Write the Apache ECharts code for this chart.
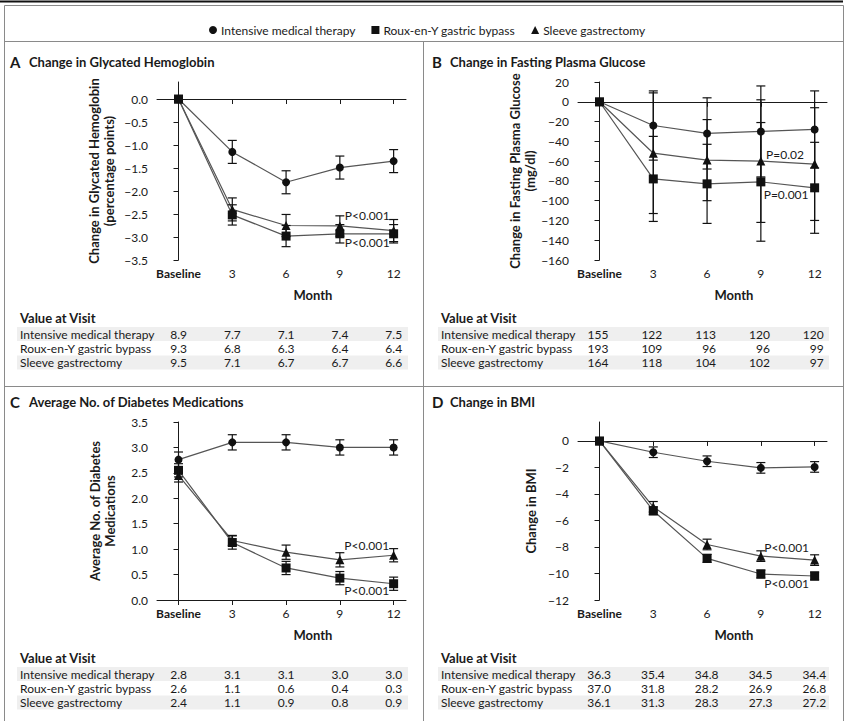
<!DOCTYPE html>
<html><head><meta charset="utf-8">
<script src="https://cdn.jsdelivr.net/npm/echarts@6/dist/echarts.min.js"></script>
<style>html,body{margin:0;padding:0;background:#fff}#c{width:850px;height:721px}</style>
</head><body><div id="c"></div>
<script>
// ---------- DATA ----------
const months = ['Baseline', '3', '6', '9', '12'];
const groups = ['Intensive medical therapy', 'Roux-en-Y gastric bypass', 'Sleeve gastrectomy'];

// Panel A: change in glycated hemoglobin (percentage points)
const hbaIntensive = [0, -1.15, -1.81, -1.49, -1.35];
const hbaIntensiveErr = [0, 0.25, 0.25, 0.25, 0.25];
const hbaBypass = [0, -2.52, -2.98, -2.93, -2.93];
const hbaBypassErr = [0, 0.22, 0.23, 0.2, 0.2];
const hbaSleeve = [0, -2.40, -2.75, -2.76, -2.86];
const hbaSleeveErr = [0, 0.25, 0.24, 0.22, 0.24];

// Panel B: change in fasting plasma glucose (mg/dl)
const fpgIntensive = [0, -24, -32, -30, -28];
const fpgIntensiveErr = [0, 35, 36, 46, 39];
const fpgBypass = [0, -78, -83, -81, -87];
const fpgBypassErr = [0, 43, 40, 60, 46];
const fpgSleeve = [0, -52, -59, -60, -63];
const fpgSleeveErr = [0, 61, 41, 62, 57];

// Panel C: average no. of diabetes medications
const medIntensive = [2.76, 3.10, 3.10, 3.00, 3.00];
const medIntensiveErr = [0.15, 0.15, 0.15, 0.15, 0.15];
const medBypass = [2.55, 1.13, 0.63, 0.43, 0.32];
const medBypassErr = [0.13, 0.13, 0.13, 0.13, 0.13];
const medSleeve = [2.45, 1.17, 0.94, 0.79, 0.88];
const medSleeveErr = [0.13, 0.1, 0.14, 0.14, 0.13];

// Panel D: change in BMI
const bmiIntensive = [0, -0.85, -1.53, -2.03, -1.96];
const bmiIntensiveErr = [0, 0.4, 0.4, 0.4, 0.4];
const bmiBypass = [0, -5.27, -8.86, -10.04, -10.19];
const bmiBypassErr = [0, 0.3, 0.3, 0.3, 0.3];
const bmiSleeve = [0, -4.97, -7.81, -8.69, -8.99];
const bmiSleeveErr = [0, 0.4, 0.4, 0.4, 0.4];

// Value at visit tables
const tblA = [['8.9','7.7','7.1','7.4','7.5'], ['9.3','6.8','6.3','6.4','6.4'], ['9.5','7.1','6.7','6.7','6.6']];
const tblB = [['155','122','113','120','120'], ['193','109','96','96','99'], ['164','118','104','102','97']];
const tblC = [['2.8','3.1','3.1','3.0','3.0'], ['2.6','1.1','0.6','0.4','0.3'], ['2.4','1.1','0.9','0.8','0.9']];
const tblD = [['36.3','35.4','34.8','34.5','34.4'], ['37.0','31.8','28.2','26.9','26.8'], ['36.1','31.3','28.3','27.3','27.2']];

const yTicksA = [0, -0.5, -1, -1.5, -2, -2.5, -3, -3.5];
const yTicksB = [20, 0, -20, -40, -60, -80, -100, -120, -140, -160];
const yTicksC = [0, 0.5, 1, 1.5, 2, 2.5, 3, 3.5];
const yTicksD = [0, -2, -4, -6, -8, -10, -12];

// ---------- CHART ----------
const FONT = 'Lato, "Open Sans", sans-serif';
const INK = '#1a1a1a';
const chart = echarts.init(document.getElementById('c'), null, {renderer: 'svg'});

const XMIN = -0.4, XMAX = 4.23;
const grids = [
  {left: 157, top: 82, width: 249, height: 178},
  {left: 578, top: 82, width: 249, height: 178},
  {left: 157, top: 422, width: 249, height: 178},
  {left: 578, top: 422, width: 249, height: 178}
];
const yCfg = [
  {min: -3.5, max: 0.37, ticks: yTicksA, fmt: v => v.toFixed(1), name: 'Change in Glycated Hemoglobin\n(percentage points)', gap: 41},
  {min: -160, max: 20, ticks: yTicksB, fmt: v => String(v), name: 'Change in Fasting Plasma Glucose\n(mg/dl)', gap: 38},
  {min: 0, max: 3.5, ticks: yTicksC, fmt: v => v.toFixed(1), name: 'Average No. of Diabetes\nMedications', gap: 40},
  {min: -12, max: 1.43, ticks: yTicksD, fmt: v => String(v), name: 'Change in BMI', gap: 40}
];

const xAxes = grids.map((g, i) => ({
  type: 'value', gridIndex: i, min: XMIN, max: XMAX,
  axisLine: {lineStyle: {color: INK, width: 1}},
  axisTick: {customValues: [0, 1, 2, 3, 4], length: 5, lineStyle: {color: INK}},
  splitLine: {show: false},
  axisLabel: {
    customValues: [0, 1, 2, 3, 4], margin: 7, color: INK, fontSize: 12, fontFamily: FONT,
    formatter: v => { const t = months[Math.round(v)]; return Math.round(v) === 0 ? '{b|' + t + '}' : t; },
    rich: {b: {fontWeight: 'bold', fontSize: 12, fontFamily: FONT, color: INK}}
  }
}));
const yAxes = yCfg.map((c, i) => ({
  type: 'value', gridIndex: i, min: c.min, max: c.max,
  name: c.name, nameLocation: 'middle', nameGap: c.gap,
  nameTextStyle: {fontFamily: FONT, fontWeight: 'bold', fontSize: 13, color: INK, lineHeight: 15},
  axisLine: {show: true, lineStyle: {color: INK, width: 1}},
  axisTick: {show: true, customValues: c.ticks, length: 5, lineStyle: {color: INK}},
  splitLine: {show: false},
  axisLabel: {customValues: c.ticks, margin: 9, color: INK, fontSize: 12, fontFamily: FONT,
    formatter: v => c.fmt(v).replace('-', '\u2212')}
}));

function errItem(params, api) {
  const x = api.value(0), lo = api.value(1), hi = api.value(2);
  const p1 = api.coord([x, hi]), p2 = api.coord([x, lo]);
  const w = 4.5;
  const style = {stroke: '#111', lineWidth: 1.2};
  return {type: 'group', children: [
    {type: 'line', shape: {x1: p1[0], y1: p1[1], x2: p2[0], y2: p2[1]}, style},
    {type: 'line', shape: {x1: p1[0] - w, y1: p1[1], x2: p1[0] + w, y2: p1[1]}, style},
    {type: 'line', shape: {x1: p2[0] - w, y1: p2[1], x2: p2[0] + w, y2: p2[1]}, style}
  ]};
}

const series = [];
const syms = ['circle', 'rect', 'triangle'];
const symSizes = [8, 9, 9];
function pMark(coord, text) {
  return {symbol: 'circle', symbolSize: 0, silent: true, animation: false,
    label: {show: true, position: 'inside', formatter: text, color: INK, fontSize: 12, fontFamily: FONT},
    data: [{coord}]};
}
function addPanel(gi, vals, errs, marks) {
  for (let k = 0; k < 3; k++) {
    const s = {
      type: 'line', name: groups[k], xAxisIndex: gi, yAxisIndex: gi,
      data: vals[k].map((v, i) => [i, v]),
      symbol: syms[k], symbolSize: symSizes[k], showAllSymbol: true,
      itemStyle: {color: '#111'}, lineStyle: {color: '#555', width: 1.2},
      z: 3, silent: true, animation: false
    };
    if (marks[k]) s.markPoint = pMark(marks[k][0], marks[k][1]);
    series.push(s);
    series.push({
      type: 'custom', name: groups[k], xAxisIndex: gi, yAxisIndex: gi, renderItem: errItem,
      itemStyle: {color: '#111'},
      data: vals[k].map((v, i) => [i, v - errs[k][i], v + errs[k][i]]).filter((d, i) => errs[k][i] > 0),
      z: 4, silent: true, animation: false
    });
  }
}
addPanel(0, [hbaIntensive, hbaBypass, hbaSleeve], [hbaIntensiveErr, hbaBypassErr, hbaSleeveErr],
  [null, [[3.51, -3.13], 'P<0.001'], [[3.51, -2.54], 'P<0.001']]);
addPanel(1, [fpgIntensive, fpgBypass, fpgSleeve], [fpgIntensiveErr, fpgBypassErr, fpgSleeveErr],
  [null, [[3.47, -94], 'P=0.001'], [[3.45, -53], 'P=0.02']]);
addPanel(2, [medIntensive, medBypass, medSleeve], [medIntensiveErr, medBypassErr, medSleeveErr],
  [null, [[3.5, 0.18], 'P<0.001'], [[3.5, 1.07], 'P<0.001']]);
addPanel(3, [bmiIntensive, bmiBypass, bmiSleeve], [bmiIntensiveErr, bmiBypassErr, bmiSleeveErr],
  [null, [[3.48, -10.74], 'P<0.001'], [[3.48, -8.03], 'P<0.001']]);

const option = {
  animation: false,
  textStyle: {fontFamily: FONT},
  grid: grids,
  xAxis: xAxes,
  yAxis: yAxes,
  legend: {
    left: 204, top: 19, itemWidth: 8, itemHeight: 8, itemGap: 16, selectedMode: false,
    textStyle: {fontFamily: FONT, fontSize: 12, color: INK, padding: [0, 0, 0, -1]},
    data: [
      {name: groups[0], icon: 'circle'},
      {name: groups[1], icon: 'rect'},
      {name: groups[2], icon: 'triangle'}
    ]
  },
  series
};
chart.setOption(option);

// ---------- frame, titles, tables ----------
const G = [];
const FRAME = '#8a8a8a';
G.push({type: 'line', shape: {x1: 0, y1: 1.5, x2: 843, y2: 1.5}, style: {stroke: '#111', lineWidth: 2}, silent: true});
G.push({type: 'polyline', shape: {points: [[4.5, 721], [4.5, 5.5], [843.5, 5.5], [843.5, 721]]}, style: {stroke: FRAME, lineWidth: 1, fill: null}, silent: true});
G.push({type: 'line', shape: {x1: 4.5, y1: 41.5, x2: 843.5, y2: 41.5}, style: {stroke: FRAME, lineWidth: 1}, silent: true});
G.push({type: 'line', shape: {x1: 4.5, y1: 386.5, x2: 843.5, y2: 386.5}, style: {stroke: FRAME, lineWidth: 1}, silent: true});
G.push({type: 'line', shape: {x1: 423.5, y1: 41.5, x2: 423.5, y2: 721}, style: {stroke: FRAME, lineWidth: 1}, silent: true});

const titles = [
  ['A', 'Change in Glycated Hemoglobin', 10, 29, 62],
  ['B', 'Change in Fasting Plasma Glucose', 432, 450, 62],
  ['C', 'Average No. of Diabetes Medications', 10, 29, 402],
  ['D', 'Change in BMI', 432, 450, 402]
];
titles.forEach(t => {
  G.push({type: 'text', x: t[2], y: t[4], style: {text: t[0], font: 'bold 15px ' + FONT, fill: INK, textVerticalAlign: 'middle'}, silent: true});
  G.push({type: 'text', x: t[3], y: t[4], style: {text: t[1], font: 'bold 13px ' + FONT, fill: INK, textVerticalAlign: 'middle'}, silent: true});
});

const tables = [tblA, tblB, tblC, tblD];
const tblTop = [318, 318, 658, 658];
const tblLeft = [20, 441, 20, 441];
const bandX = [[17, 408], [438, 829], [17, 408], [438, 829]];
const numOff = [8.5, 9, 8.5, 11.5];
const monthY = [295, 295, 635, 635];
tables.forEach((tb, gi) => {
  const y0 = tblTop[gi];
  // Month axis title, centered between month 3 and month 12 ticks
  const mx = chart.convertToPixel({xAxisIndex: gi}, 2.5);
  G.push({type: 'text', x: mx, y: monthY[gi], style: {text: 'Month', font: 'bold 13px ' + FONT, fill: INK, textAlign: 'center', textVerticalAlign: 'middle'}, silent: true});
  G.push({type: 'text', x: tblLeft[gi], y: y0, style: {text: 'Value at Visit', font: 'bold 13px ' + FONT, fill: INK, textVerticalAlign: 'middle'}, silent: true});
  for (let r = 0; r < 3; r++) {
    const ry = y0 + 16 + r * 14.3;
    if (r !== 1) {
      G.push({type: 'rect', shape: {x: bandX[gi][0], y: ry - 7, width: bandX[gi][1] - bandX[gi][0], height: 14}, style: {fill: '#efefef'}, z: -1, silent: true});
    }
    G.push({type: 'text', x: tblLeft[gi], y: ry, style: {text: groups[r], font: '12px ' + FONT, fill: INK, textVerticalAlign: 'middle'}, silent: true});
    tb[r].forEach((v, c) => {
      const px = chart.convertToPixel({xAxisIndex: gi}, c);
      G.push({type: 'text', x: px + numOff[gi], y: ry, style: {text: v, font: '12px ' + FONT, fill: INK, textAlign: 'right', textVerticalAlign: 'middle'}, silent: true});
    });
  }
});
chart.setOption({graphic: {elements: G}});
</script>
</body></html>
